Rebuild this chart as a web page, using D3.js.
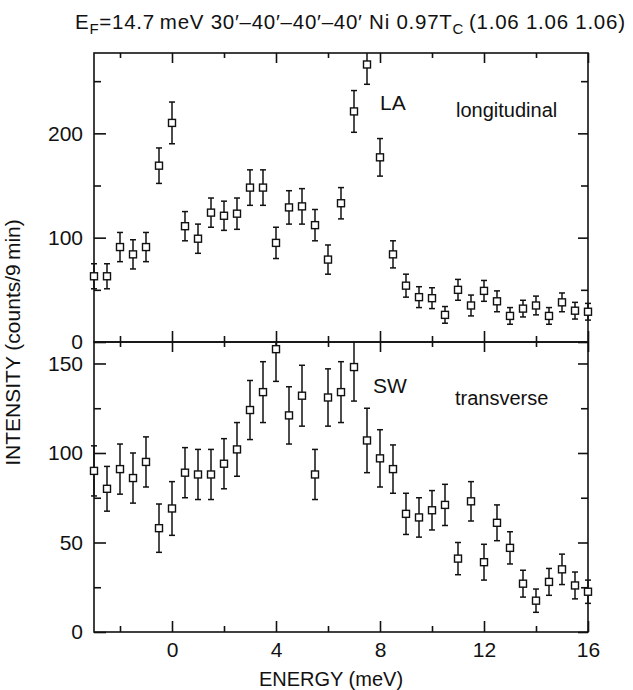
<!DOCTYPE html>
<html>
<head>
<meta charset="utf-8">
<script src="https://cdn.jsdelivr.net/npm/d3@7"></script>
<style>
  body { margin: 0; background: #fff; }
  svg text { font-family: "Liberation Sans", Arial, Helvetica, sans-serif; fill: #111; }
</style>
</head>
<body>
<div id="chart"></div>
<script>
// energy transfer (meV), same grid for both scans
var energies = [-3, -2.5, -2, -1.5, -1, -0.5, 0, 0.5, 1, 1.5, 2, 2.5, 3, 3.5, 4, 4.5, 5, 5.5, 6, 6.5,
                7, 7.5, 8, 8.5, 9, 9.5, 10, 10.5, 11, 11.5, 12, 12.5, 13, 13.5, 14, 14.5, 15, 15.5, 16];

// LA, longitudinal (upper panel)
var la_counts = [63, 63, 91, 84, 91, 169, 210, 111, 99, 124, 121, 123, 148, 148, 95, 129, 130, 112, 79, 133,
                 221, 266, 177, 84, 54, 43, 42, 26, 50, 35, 49, 39, 25, 32, 35, 25, 38, 30, 29];
var la_errors = [12, 12, 14, 14, 14, 17, 20, 14, 14, 14, 14, 15, 17, 17, 15, 16, 17, 15, 14, 15,
                 20, 19, 18, 13, 11, 10, 10, 8, 10, 10, 10, 10, 8, 8, 9, 8, 9, 8, 8];

// SW, transverse (lower panel)
var sw_counts = [90, 80, 91, 86, 95, 58, 69, 89, 88, 88, 94, 102, 124, 134, 158, 121, 132, 88, 131, 134,
                 148, 107, 97, 91, 66, 64, 68, 71, 41, 73, 39, 61, 47, 27, 17.5, 28, 35, 26, 22.5];
var sw_errors = [14, 12.5, 14, 14, 14, 13.5, 15, 14, 14, 14, 14, 15, 16.5, 17, 18, 16, 17, 14, 16, 17,
                 19, 18, 16, 13.5, 11.5, 11, 11, 11.5, 9, 11, 10, 10, 9, 7.5, 6.5, 7.5, 8.5, 7.5, 6.5];

var x_major = [0, 4, 8, 12, 16];
var x_minor = [-2, 2, 6, 10, 14];
var la_major = [0, 100, 200];
var la_minor = [50, 150, 250];
var sw_major = [0, 50, 100, 150];
var sw_minor = [25, 75, 125];

var width = 633, height = 690;
var plot_left = 94, plot_right = 588, plot_top = 53, plot_mid = 342, plot_bottom = 632;

var svg = d3.select("#chart").append("svg").attr("width", width).attr("height", height);

var x = d3.scaleLinear().domain([-3, 16]).range([plot_left, plot_right]);
var y_la = d3.scaleLinear().domain([0, 277]).range([plot_mid, plot_top]);
var y_sw = d3.scaleLinear().domain([0, 162]).range([plot_bottom, plot_mid]);

function drawPanel(id, y, counts, errors, major, minor, showX) {
  var y0 = y.range()[0], y1 = y.range()[1];
  var g = svg.append("g");

  // ticks on all four sides, pointing in
  g.append("g").attr("transform", "translate(" + plot_left + ",0)")
    .call(d3.axisLeft(y).tickValues(major).tickSize(-12).tickPadding(11).tickFormat(d3.format("d")));
  g.append("g").attr("transform", "translate(" + plot_left + ",0)")
    .call(d3.axisLeft(y).tickValues(minor).tickSize(-7).tickFormat(""));
  g.append("g").attr("transform", "translate(" + plot_right + ",0)")
    .call(d3.axisRight(y).tickValues(major).tickSize(-10).tickFormat(""));
  g.append("g").attr("transform", "translate(" + plot_right + ",0)")
    .call(d3.axisRight(y).tickValues(minor).tickSize(-7).tickFormat(""));
  g.append("g").attr("transform", "translate(0," + y0 + ")")
    .call(d3.axisBottom(x).tickValues(x_major).tickSize(-11).tickPadding(10)
      .tickFormat(showX ? d3.format("d") : ""));
  g.append("g").attr("transform", "translate(0," + y0 + ")")
    .call(d3.axisBottom(x).tickValues(x_minor).tickSize(-6).tickFormat(""));
  g.append("g").attr("transform", "translate(0," + y1 + ")")
    .call(d3.axisTop(x).tickValues(x_major).tickSize(-10).tickFormat(""));
  g.append("g").attr("transform", "translate(0," + y1 + ")")
    .call(d3.axisTop(x).tickValues(x_minor).tickSize(-5).tickFormat(""));

  g.selectAll(".domain").remove();
  g.selectAll(".tick line").attr("stroke", "#111").attr("stroke-width", 1.6);
  g.selectAll(".tick text").attr("font-size", 21).style("fill", "#111");

  g.append("rect")
    .attr("x", plot_left).attr("y", y1)
    .attr("width", plot_right - plot_left).attr("height", y0 - y1)
    .attr("fill", "none").attr("stroke", "#111").attr("stroke-width", 1.6);

  g.append("clipPath").attr("id", id)
    .append("rect").attr("x", 0).attr("y", y1).attr("width", width).attr("height", y0 - y1);

  var bars = g.append("g").attr("clip-path", "url(#" + id + ")")
    .attr("stroke", "#111").attr("stroke-width", 1.5);
  var pts = d3.range(energies.length);
  bars.selectAll("line.bar").data(pts).enter().append("line")
    .attr("x1", function(i){ return x(energies[i]); })
    .attr("x2", function(i){ return x(energies[i]); })
    .attr("y1", function(i){ return y(counts[i] - errors[i]); })
    .attr("y2", function(i){ return y(counts[i] + errors[i]); });
  bars.selectAll("line.capHi").data(pts).enter().append("line")
    .attr("x1", function(i){ return x(energies[i]) - 3; })
    .attr("x2", function(i){ return x(energies[i]) + 3; })
    .attr("y1", function(i){ return y(counts[i] + errors[i]); })
    .attr("y2", function(i){ return y(counts[i] + errors[i]); });
  bars.selectAll("line.capLo").data(pts).enter().append("line")
    .attr("x1", function(i){ return x(energies[i]) - 3; })
    .attr("x2", function(i){ return x(energies[i]) + 3; })
    .attr("y1", function(i){ return y(counts[i] - errors[i]); })
    .attr("y2", function(i){ return y(counts[i] - errors[i]); });

  g.append("g").selectAll("rect").data(pts).enter().append("rect")
    .attr("x", function(i){ return x(energies[i]) - 3.5; })
    .attr("y", function(i){ return y(counts[i]) - 3.5; })
    .attr("width", 7).attr("height", 7)
    .attr("fill", "#fff").attr("stroke", "#111").attr("stroke-width", 1.4);
  return g;
}

var g_la = drawPanel("clip-la", y_la, la_counts, la_errors, la_major, la_minor, false);
var g_sw = drawPanel("clip-sw", y_sw, sw_counts, sw_errors, sw_major, sw_minor, true);

g_la.append("text").attr("x", 380).attr("y", 110).attr("font-size", 21).text("LA");
g_la.append("text").attr("x", 456).attr("y", 117).attr("font-size", 20).text("longitudinal");
g_sw.append("text").attr("x", 373).attr("y", 393).attr("font-size", 21).text("SW");
g_sw.append("text").attr("x", 455).attr("y", 405).attr("font-size", 20).text("transverse");

// title
var title = svg.append("text").attr("x", 75).attr("y", 29).attr("font-size", 20.5)
  .attr("textLength", 550).attr("lengthAdjust", "spacing");
title.append("tspan").text("E");
title.append("tspan").attr("font-size", 15).attr("dy", 5).text("F");
title.append("tspan").attr("dy", -5).text("=14.7\u2009meV 30\u2032\u201340\u2032\u201340\u2032\u201340\u2032 Ni 0.97T");
title.append("tspan").attr("font-size", 15).attr("dy", 5).text("C");
title.append("tspan").attr("dy", -5).text("\u2009(1.06 1.06 1.06)");

svg.append("text")
  .attr("transform", "translate(20," + ((plot_top + plot_bottom) / 2) + ") rotate(-90)")
  .attr("text-anchor", "middle").attr("font-size", 21)
  .text("INTENSITY (counts/9\u2009min)");

svg.append("text")
  .attr("x", (plot_left + plot_right) / 2 - 10).attr("y", 686)
  .attr("text-anchor", "middle").attr("font-size", 20)
  .text("ENERGY (meV)");
</script>
</body>
</html>
